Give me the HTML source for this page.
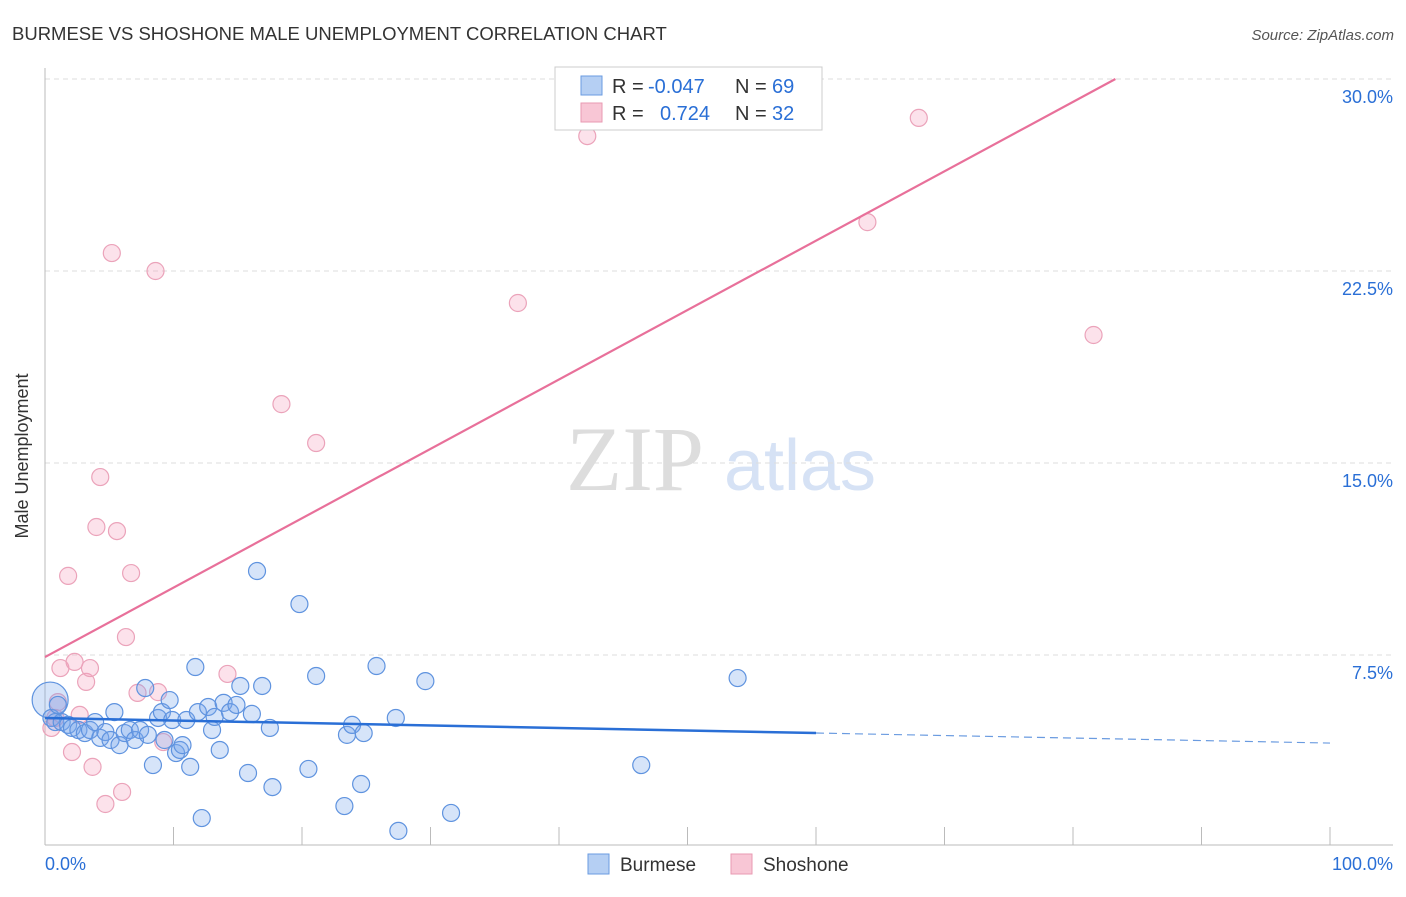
<!DOCTYPE html>
<html><head><meta charset="utf-8">
<style>
body{margin:0;background:#fff;font-family:"Liberation Sans",sans-serif;}
</style></head>
<body>
<svg id="c" width="1406" height="892" xmlns="http://www.w3.org/2000/svg">
<text x="12" y="40" font-size="18.5" fill="#333">BURMESE VS SHOSHONE MALE UNEMPLOYMENT CORRELATION CHART</text>
<text x="1394" y="40" font-size="15" fill="#555" font-style="italic" text-anchor="end">Source: ZipAtlas.com</text>
<g>
<text x="635" y="490" font-size="92" fill="#ddd" font-family="Liberation Serif,serif" text-anchor="middle">ZIP</text>
<text x="800" y="490" font-size="72" fill="#d6e2f5" text-anchor="middle">atlas</text>
</g>
<g id="grid"></g>
<g id="axes"></g>
<g id="pts"></g>
<g id="lines"></g>
<text x="28" y="456" font-size="18" fill="#333" text-anchor="middle" transform="rotate(-90 28 456)">Male Unemployment</text>
<g>
<rect x="555" y="67" width="267" height="63" fill="#fff" stroke="#ccc"/>
<rect x="581" y="76" width="21" height="19" fill="#b5cff3" stroke="#6a9be0"/>
<text x="612" y="93" font-size="20" fill="#333">R = </text><text x="648" y="93" font-size="20" fill="#2a6fd6">-0.047</text>
<text x="735" y="93" font-size="20" fill="#333">N = </text><text x="772" y="93" font-size="20" fill="#2a6fd6">69</text>
<rect x="581" y="103" width="21" height="19" fill="#f8c6d5" stroke="#e89ab2"/>
<text x="612" y="120" font-size="20" fill="#333">R = </text><text x="660" y="120" font-size="20" fill="#2a6fd6">0.724</text>
<text x="735" y="120" font-size="20" fill="#333">N = </text><text x="772" y="120" font-size="20" fill="#2a6fd6">32</text>
</g>
<g>
<rect x="588" y="854" width="21" height="20" fill="#b5cff3" stroke="#6a9be0"/>
<text x="620" y="871" font-size="19" fill="#333">Burmese</text>
<rect x="731" y="854" width="21" height="20" fill="#f8c6d5" stroke="#e89ab2"/>
<text x="763" y="871" font-size="19" fill="#333">Shoshone</text>
</g>
</svg>
<script>
const yTicks=[7.5,15,22.5,30];
const yTickLabels=["7.5%","15.0%","22.5%","30.0%"];
const burmeseX=[0.4,0.5,1.0,0.8,1.3,1.8,2.1,2.6,3.1,3.5,3.9,4.3,4.7,5.1,5.4,5.8,6.2,6.6,7.0,7.4,7.8,8.0,8.4,8.8,9.1,9.3,9.7,9.9,10.2,10.5,10.7,11.0,11.3,11.7,11.9,12.2,12.7,13.0,13.2,13.6,13.9,14.4,14.9,15.2,15.8,16.1,16.5,16.9,17.5,17.7,19.8,20.5,21.1,23.3,23.5,23.9,24.6,24.8,25.8,27.3,27.5,29.6,31.6,46.4,53.9];
const burmeseY=[5.74,5.04,5.55,4.88,4.88,4.77,4.65,4.57,4.45,4.57,4.88,4.26,4.49,4.18,5.27,3.98,4.45,4.57,4.18,4.57,6.21,4.38,3.2,5.04,5.27,4.18,5.74,4.96,3.67,3.79,3.98,4.96,3.13,7.03,5.27,1.13,5.47,4.57,5.08,3.79,5.63,5.27,5.55,6.29,2.89,5.2,10.78,6.29,4.65,2.34,9.49,3.05,6.68,1.6,4.38,4.77,2.46,4.45,7.07,5.04,0.63,6.48,1.33,3.2,6.6];
const shoshoneX=[0.5,0.8,1.0,1.2,1.8,2.1,2.3,2.7,3.2,3.5,3.7,4.0,4.3,4.7,5.2,5.6,6.0,6.3,6.7,7.2,8.6,8.8,9.2,14.2,18.4,21.1,36.8,42.2,64.0,68.0,81.6];
const shoshoneY=[4.65,5.04,5.66,6.99,10.59,3.71,7.23,5.16,6.45,6.99,3.13,12.5,14.45,1.68,23.2,12.34,2.15,8.2,10.7,6.02,22.5,6.05,4.1,6.76,17.3,15.78,21.25,27.77,24.41,28.48,20.0];
const burmeseTrend=[5.04,4.06];
const shoshoneTrend=[7.42,30];
const NS="http://www.w3.org/2000/svg";
const X=v=>45+v*12.85, Y=v=>847-v*25.6;
function mk(t,a,p){const e=document.createElementNS(NS,t);for(const k in a)e.setAttribute(k,a[k]);document.getElementById(p).appendChild(e);return e;}
yTicks.forEach((t,i)=>{
 const g=mk('line',{x1:45,x2:1393,y1:Y(t),y2:Y(t),stroke:'#ddd','stroke-dasharray':'5,4'},'grid');
 
 
 const l=mk('text',{x:1393,y:Y(t)+24,'font-size':18,fill:'#2a6fd6','text-anchor':'end'},'axes');l.textContent=yTickLabels[i];
 
 
});
let a=mk('line',{x1:45,x2:45,y1:68,y2:845,stroke:'#bbb'},'axes');


a=mk('line',{x1:45,x2:1393,y1:845,y2:845,stroke:'#bbb'},'axes');


for(let i=1;i<=10;i++){const t=mk('line',{x1:X(i*10),x2:X(i*10),y1:827,y2:845,stroke:'#bbb'},'axes');
 
 }
let t=mk('text',{x:45,y:870,'font-size':18,fill:'#2a6fd6'},'axes');t.textContent='0.0%';


t=mk('text',{x:1393,y:870,'font-size':18,fill:'#2a6fd6','text-anchor':'end'},'axes');t.textContent='100.0%';


shoshoneX.forEach((x,i)=>{const c=mk('circle',{cx:X(x),cy:Y(shoshoneY[i]),r:8.5,fill:'rgba(244,160,188,0.3)',stroke:'#eba3ba','stroke-width':1.2},'pts');
 
 });
burmeseX.forEach((x,i)=>{const c=mk('circle',{cx:X(x),cy:Y(burmeseY[i]),r:i==0?18:8.5,fill:'rgba(120,165,235,0.3)',stroke:'#5f93df','stroke-width':1.2},'pts');
 
 });
const by=v=>burmeseTrend[0]+(burmeseTrend[1]-burmeseTrend[0])*v/100;
let ln=mk('line',{x1:X(0),y1:Y(by(0)),x2:X(60),y2:Y(by(60)),stroke:'#2a6fd6','stroke-width':2.5},'lines');


ln=mk('line',{x1:X(60),y1:Y(by(60)),x2:X(100),y2:Y(by(100)),stroke:'#6a9be0','stroke-width':1.2,'stroke-dasharray':'8,5'},'lines');


ln=mk('line',{x1:X(0),y1:Y(shoshoneTrend[0]),x2:X(83.3),y2:Y(shoshoneTrend[1]),stroke:'#e8709a','stroke-width':2.2},'lines');


</script>
</body></html>
